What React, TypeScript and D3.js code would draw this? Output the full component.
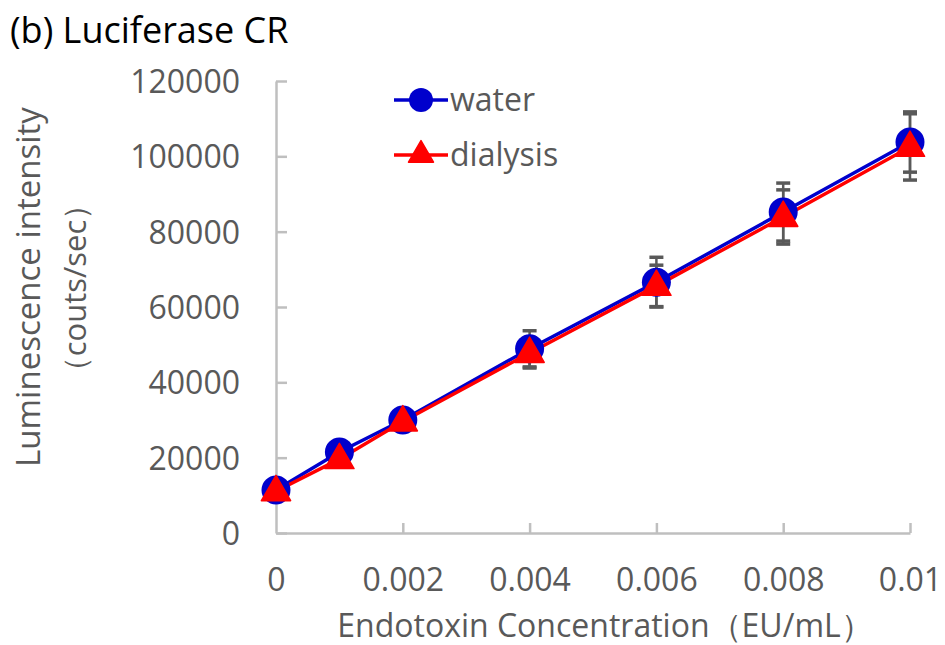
import React, { useEffect, useRef } from 'react'
import * as d3 from 'd3'

// concentrations (EU/mL)
const conc = [0, 0.001, 0.002, 0.004, 0.006, 0.008, 0.01]
// luminescence (counts/sec)
const water = [11400, 21500, 30000, 48900, 66600, 85200, 103800]
const waterErr = [1200, 1200, 1500, 4800, 6600, 7700, 8000]
const dialysis = [11100, 19600, 29600, 47800, 65600, 83900, 102500]
const dialysisErr = [1000, 1000, 1300, 4000, 5500, 7200, 8800]

const xTicks = [0, 0.002, 0.004, 0.006, 0.008, 0.01]
const yTicks = [0, 20000, 40000, 60000, 80000, 100000, 120000]

const FONT = "'Open Sans', 'Noto Sans', sans-serif"
const GRAY = '#595959'
const AXIS = '#bfbfbf'
const BLUE = '#0000cc'
const RED = '#ff0000'

export default function App() {
  const svgRef = useRef<SVGSVGElement>(null)

  useEffect(() => {
    const width = 945, height = 645
    const margin = { left: 276, right: 35, top: 81, bottom: 112 }
    const svg = d3.select(svgRef.current)
    svg.selectAll('*').remove()

    const x = d3.scaleLinear().domain([0, 0.01]).range([margin.left, width - margin.right])
    const y = d3.scaleLinear().domain([0, 120000]).range([height - margin.bottom, margin.top])

    // title
    svg.append('text')
      .attr('x', 10).attr('y', 43)
      .style('font', `36px ${FONT}`)
      .attr('fill', '#000')
      .text('(b) Luciferase CR')

    // axes
    const xAxis = svg.append('g')
      .attr('transform', `translate(0,${y(0)})`)
      .call(d3.axisBottom(x).tickValues(xTicks).tickSizeInner(-10).tickSizeOuter(0)
        .tickPadding(35).tickFormat(d => d3.format('')(+d)))
    const yAxis = svg.append('g')
      .attr('transform', `translate(${x(0)},0)`)
      .call(d3.axisLeft(y).tickValues(yTicks).tickSizeInner(-11).tickSizeOuter(0)
        .tickPadding(36).tickFormat(d3.format('d')))

    ;[xAxis, yAxis].forEach(g => {
      g.select('.domain').attr('stroke', AXIS).attr('stroke-width', 2.5)
      g.selectAll('.tick line').attr('stroke', AXIS).attr('stroke-width', 2.5)
      g.selectAll('.tick text').attr('fill', GRAY).style('font', `32px ${FONT}`)
    })
    xAxis.selectAll('.tick text').attr('dy', '0.71em')
    yAxis.selectAll('.tick text').attr('dy', '0.36em')
    // no tick mark at the origin
    xAxis.selectAll('.tick line').filter((d: any) => d === 0).remove()

    // axis titles
    svg.append('text')
      .attr('transform', `translate(40,287) rotate(-90)`)
      .attr('text-anchor', 'middle')
      .attr('fill', GRAY).style('font', `33px ${FONT}`)
      .text('Luminescence intensity')
    svg.append('text')
      .attr('transform', `translate(86,288) rotate(-90)`)
      .attr('text-anchor', 'middle')
      .attr('fill', GRAY).style('font', `31px ${FONT}`)
      .text('（couts/sec）')
    svg.append('text')
      .attr('x', 605).attr('y', 637)
      .attr('text-anchor', 'middle')
      .attr('fill', GRAY).style('font', `32px ${FONT}`)
      .text('Endotoxin Concentration（EU/mL）')

    const line = d3.line<number>().x((d, i) => x(conc[i])).y(d => y(d))

    // lines
    svg.append('path').datum(water).attr('d', line)
      .attr('fill', 'none').attr('stroke', BLUE).attr('stroke-width', 3.5)
    svg.append('path').datum(dialysis).attr('d', line)
      .attr('fill', 'none').attr('stroke', RED).attr('stroke-width', 3.5)

    // error bars
    const drawErr = (vals: number[], errs: number[]) => {
      const g = svg.append('g').attr('stroke', GRAY).attr('stroke-width', 2.5)
      vals.forEach((v, i) => {
        const cx = x(conc[i])
        g.append('line').attr('x1', cx).attr('x2', cx).attr('y1', y(v + errs[i])).attr('y2', y(v - errs[i]))
        ;[v + errs[i], v - errs[i]].forEach(e => {
          g.append('line').attr('x1', cx - 7).attr('x2', cx + 7).attr('y1', y(e)).attr('y2', y(e)).attr('stroke-width', 3.5)
        })
      })
    }
    drawErr(water, waterErr)
    drawErr(dialysis, dialysisErr)

    const tri = d3.symbol().type(d3.symbolTriangle)

    // markers
    svg.append('g').selectAll('circle').data(water).enter().append('circle')
      .attr('cx', (d, i) => x(conc[i])).attr('cy', d => y(d)).attr('r', 14.5)
      .attr('fill', BLUE)
    svg.append('g').selectAll('path').data(dialysis).enter().append('path')
      .attr('d', tri.size(370)())
      .attr('transform', (d, i) => `translate(${x(conc[i])},${y(d) + 1})`)
      .attr('fill', RED).attr('stroke', RED).attr('stroke-width', 1.5).attr('stroke-linejoin', 'round')

    // legend
    const legend = [
      { name: 'water', color: BLUE, shape: 'circle', ly: 100 },
      { name: 'dialysis', color: RED, shape: 'triangle', ly: 155 },
    ]
    legend.forEach(l => {
      svg.append('line').attr('x1', 394).attr('x2', 448).attr('y1', l.ly).attr('y2', l.ly)
        .attr('stroke', l.color).attr('stroke-width', 3.5)
      if (l.shape === 'circle') {
        svg.append('circle').attr('cx', 421).attr('cy', l.ly).attr('r', 12).attr('fill', l.color)
      } else {
        svg.append('path').attr('d', tri.size(270)()).attr('transform', `translate(421,${l.ly})`)
          .attr('fill', l.color).attr('stroke', l.color).attr('stroke-width', 1.5).attr('stroke-linejoin', 'round')
      }
      svg.append('text').attr('x', 450).attr('y', l.ly).attr('dy', '0.35em')
        .attr('fill', GRAY).style('font', `32px ${FONT}`).text(l.name)
    })
  }, [])

  return <svg ref={svgRef} width={945} height={645} style={{ display: 'block', position: 'absolute', left: 0, top: 0 }} />
}
